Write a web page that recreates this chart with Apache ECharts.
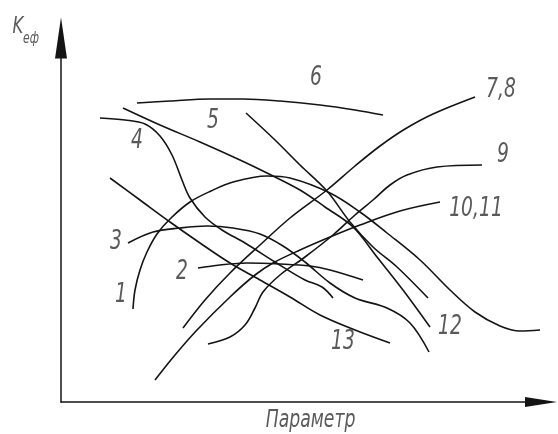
<!DOCTYPE html>
<html>
<head>
<meta charset="utf-8">
<script src="https://cdn.jsdelivr.net/npm/echarts@6/dist/echarts.min.js"></script>
<style>
  html, body { margin: 0; padding: 0; background: #fff; }
  #chart { width: 558px; height: 434px; }
</style>
</head>
<body>
<div id="chart"></div>
<script>
// Curves of K_eff against the parameter (arbitrary units, x = parameter, y = K_eff)
const curve1 = [[72,93],[74,112],[79,132],[86,150],[96,168],[110,184],[129,200],[150,211],[172,220],[206,226],[229,224],[269,209],[299,190],[326,169],[359,142],[389,112],[414,90],[439,76],[459,71],[479,72]];
const curve2 = [[137,134],[159,137],[186,139],[219,138],[249,136],[269,132],[302,122]];
const curve3 = [[67,159],[92,170],[119,174],[146,176],[172,174],[199,168],[222,156],[244,140],[269,119],[294,104],[326,94],[349,79],[368,50]];
const curve4 = [[39,284],[64,282],[84,278],[99,266],[111,247],[121,222],[129,204],[144,185],[161,172],[184,159],[214,140],[244,122],[261,115],[272,104]];
const curve5 = [[185,289],[214,262],[239,237],[266,211],[289,180],[312,155],[336,135],[367,104]];
const curve6 = [[76,299],[109,301],[149,303],[182,303],[219,301],[259,297],[294,292],[322,287]];
const curve78 = [[122,74],[144,102],[169,129],[199,157],[229,184],[266,212],[294,236],[319,256],[344,273],[372,288],[414,305]];
const curve9 = [[147,58],[169,65],[184,77],[194,94],[202,110],[219,127],[244,145],[272,167],[294,187],[312,202],[329,217],[346,227],[376,235],[421,237]];
const curve1011 = [[94,22],[114,47],[136,72],[169,105],[194,127],[212,139],[239,152],[269,165],[299,177],[339,191],[379,200]];
const curve12 = [[62,294],[99,277],[139,260],[179,242],[206,229],[239,212],[264,195],[292,175],[316,145],[342,112],[369,75]];
const curve13 = [[49,224],[79,202],[109,180],[139,159],[169,139],[199,122],[229,105],[259,87],[294,72],[329,59]];

const curveNames = ['1', '2', '3', '4', '5', '6', '7,8', '9', '10,11', '12', '13'];
const curveData = [curve1, curve2, curve3, curve4, curve5, curve6, curve78, curve9, curve1011, curve12, curve13];

// Where each curve number is written, in the same data units
const labelAnchors = [[60,107],[121,130],[55,160],[76,261],[152,281],[255,324],[440,312],[442,247],[415,193],[389,75],[282,60]];

const xMax = 480;
const yMax = 364;
const axisTitleX = 'Параметр';

const chart = echarts.init(document.getElementById('chart'), null, { renderer: 'canvas' });

const ink = '#141414';
const textInk = '#5a5a5a';

const option = {
  animation: false,
  backgroundColor: '#ffffff',
  grid: { left: 61, right: 17, top: 38, bottom: 32 },
  xAxis: {
    type: 'value', min: 0, max: xMax,
    axisLine: { show: true, symbol: ['none', 'triangle'], symbolSize: [10, 32], lineStyle: { color: ink, width: 1.5 } },
    axisTick: { show: false }, axisLabel: { show: false }, splitLine: { show: false }
  },
  yAxis: {
    type: 'value', min: 0, max: yMax,
    axisLine: { show: true, symbol: ['none', 'triangle'], symbolSize: [12, 41], lineStyle: { color: ink, width: 1.5 } },
    axisTick: { show: false }, axisLabel: { show: false }, splitLine: { show: false }
  },
  series: curveData.map((d, i) => ({
    name: curveNames[i],
    type: 'line',
    data: d,
    smooth: 0.35,
    showSymbol: false,
    symbol: 'none',
    lineStyle: { color: ink, width: 1.6 },
    silent: true
  }))
};

chart.setOption(option);

const narrow = 0.72;
function label(text, pos, size) {
  return {
    type: 'text', x: pos[0], y: pos[1], scaleX: narrow, silent: true,
    style: {
      text: text, fill: textInk,
      font: 'italic 300 ' + size + 'px "DejaVu Sans", sans-serif',
      align: 'center', verticalAlign: 'middle'
    }
  };
}

const graphics = labelAnchors.map((a, i) => label(curveNames[i], chart.convertToPixel({ gridIndex: 0 }, a), 26));

const origin = chart.convertToPixel({ gridIndex: 0 }, [0, 0]);
const xMid = chart.convertToPixel({ gridIndex: 0 }, [xMax * 0.52, 0]);
graphics.push(label(axisTitleX, [xMid[0], origin[1] + 19], 24));
graphics.push(label('K', [origin[0] - 43, 27], 23));
graphics.push(label('еф', [origin[0] - 30, 39], 15));

chart.setOption({ graphic: graphics });
</script>
</body>
</html>
